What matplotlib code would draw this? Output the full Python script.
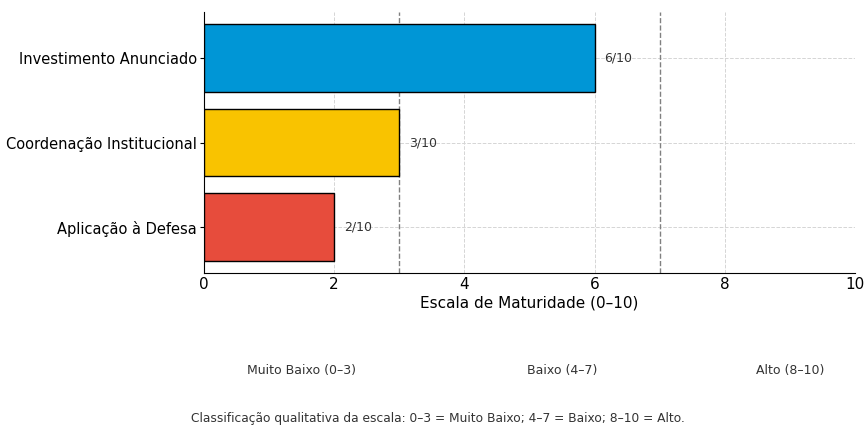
import matplotlib
matplotlib.use("Agg")
import matplotlib.pyplot as plt

categories = ["Aplicação à Defesa", "Coordenação Institucional", "Investimento Anunciado"]
values = [2, 3, 6]
colors = ["#E74C3C", "#F9C300", "#0096D6"]
bar_labels = ["2/10", "3/10", "6/10"]
thresholds = [3, 7]
band_labels = ["Muito Baixo (0–3)", "Baixo (4–7)", "Alto (8–10)"]
band_pos = [1.5, 5.5, 9.0]
xticks = [0, 2, 4, 6, 8, 10]
footer = "Classificação qualitativa da escala: 0–3 = Muito Baixo; 4–7 = Baixo; 8–10 = Alto."

fig = plt.figure(figsize=(8.65, 4.26), dpi=100)
ax = fig.add_axes([0.2358, 0.359, 0.7526, 0.6128])

y = list(range(len(categories)))
ax.barh(y, values, color=colors, edgecolor="black", linewidth=1.0, height=0.8, zorder=3)
for yi, v, lab in zip(y, values, bar_labels):
    ax.text(v + 0.15, yi, lab, va="center", ha="left", fontsize=9, color="#333333", zorder=4)

for t in thresholds:
    ax.axvline(t, color="gray", linestyle="--", linewidth=1.0, zorder=2)

ax.set_xlim(0, 10)
ax.set_xticks(xticks)
ax.set_yticks(y)
ax.set_yticklabels(categories, fontsize=10.5)
ax.tick_params(axis="y", length=3, pad=2)
ax.tick_params(axis="x", labelsize=11, length=0, pad=3)
ax.set_xlabel("Escala de Maturidade (0–10)", fontsize=11, labelpad=2)
ax.grid(True, linestyle="--", color="#d5d5d5", linewidth=0.7, zorder=0)
ax.spines["top"].set_visible(False)
ax.spines["right"].set_visible(False)

for pos, lab in zip(band_pos, band_labels):
    ax.text(pos, -0.372, lab, transform=ax.get_xaxis_transform(), ha="center", va="center",
            fontsize=9, color="#333333")

fig.text(0.506, 0.017, footer, ha="center", va="center", fontsize=8.8, color="#333333")

fig.savefig("out.png", dpi=100)
